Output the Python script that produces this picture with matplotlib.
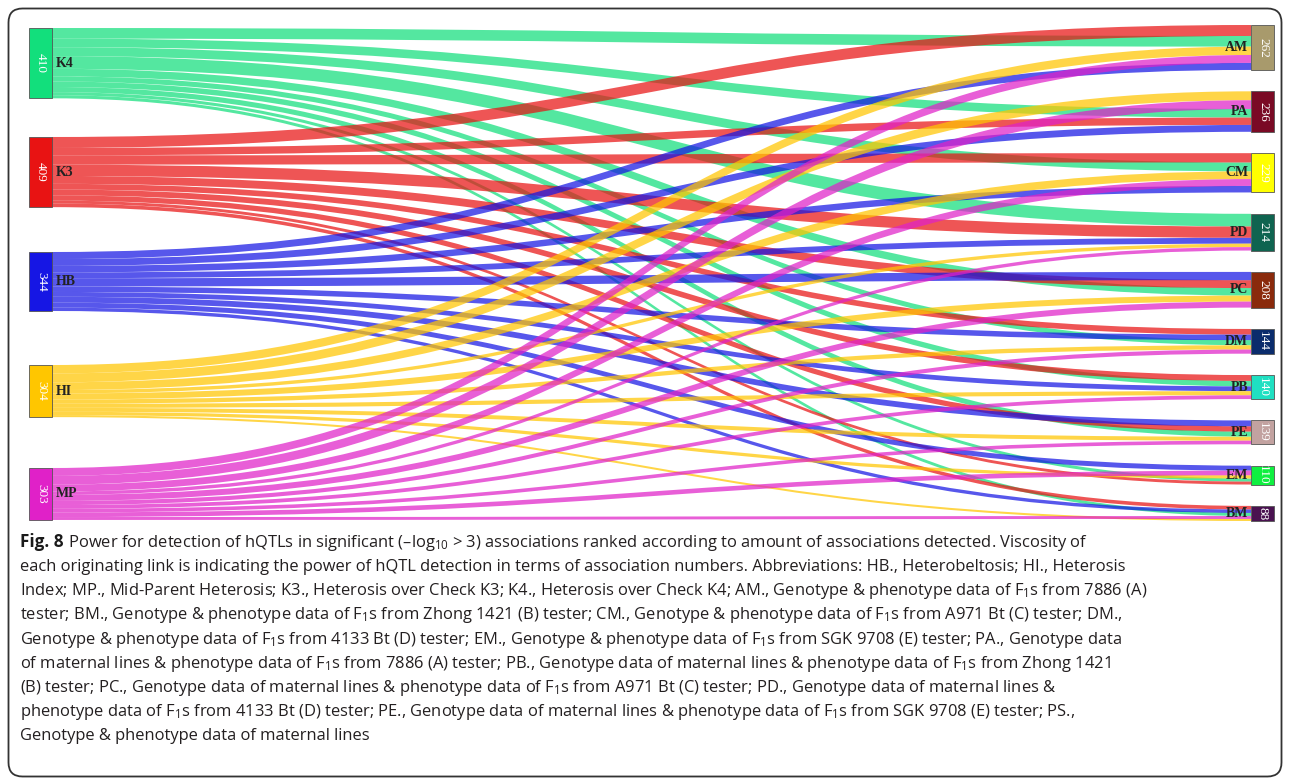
import matplotlib
matplotlib.use('Agg')
import matplotlib.pyplot as plt
from matplotlib.path import Path
from matplotlib.patches import PathPatch, Rectangle, FancyBboxPatch

# ---------------- data ----------------
sources = ['K4', 'K3', 'HB', 'HI', 'MP']
source_totals = [410, 409, 344, 304, 303]
targets = ['AM', 'PA', 'CM', 'PD', 'PC', 'DM', 'PB', 'PE', 'EM', 'BM']
target_totals = [262, 236, 229, 214, 208, 144, 140, 139, 110, 88]

# flows from each source to targets (order of `targets`)
flows_K4 = [62, 50, 52, 74, 44, 30, 32, 30, 18, 18]
flows_K3 = [64, 43, 54, 66, 46, 33, 34, 31, 17, 21]
flows_HB = [41, 40, 38, 34, 48, 32, 28, 34, 29, 20]
flows_HI = [49, 52, 45, 20, 35, 25, 24, 23, 19, 12]
flows_MP = [46, 51, 40, 20, 35, 24, 22, 21, 27, 17]
flows = [flows_K4, flows_K3, flows_HB, flows_HI, flows_MP]

caption_bold = "Fig. 8"
caption_lines = [
    " Power for detection of hQTLs in significant (\u2013log$_{10}$ > 3) associations ranked according to amount of associations detected. Viscosity of",
    "each originating link is indicating the power of hQTL detection in terms of association numbers. Abbreviations: HB., Heterobeltosis; HI., Heterosis",
    "Index; MP., Mid-Parent Heterosis; K3., Heterosis over Check K3; K4., Heterosis over Check K4; AM., Genotype & phenotype data of F$_1$s from 7886 (A)",
    "tester; BM., Genotype & phenotype data of F$_1$s from Zhong 1421 (B) tester; CM., Genotype & phenotype data of F$_1$s from A971 Bt (C) tester; DM.,",
    "Genotype & phenotype data of F$_1$s from 4133 Bt (D) tester; EM., Genotype & phenotype data of F$_1$s from SGK 9708 (E) tester; PA., Genotype data",
    "of maternal lines & phenotype data of F$_1$s from 7886 (A) tester; PB., Genotype data of maternal lines & phenotype data of F$_1$s from Zhong 1421",
    "(B) tester; PC., Genotype data of maternal lines & phenotype data of F$_1$s from A971 Bt (C) tester; PD., Genotype data of maternal lines &",
    "phenotype data of F$_1$s from 4133 Bt (D) tester; PE., Genotype data of maternal lines & phenotype data of F$_1$s from SGK 9708 (E) tester; PS.,",
    "Genotype & phenotype data of maternal lines",
]

# ---------------- style / layout ----------------
source_colors = ['#12df7c', '#e81313', '#1616e4', '#ffc600', '#e021c8']
target_colors = ['#a89a6c', '#7a0a25', '#ffff00', '#0f6450', '#8a2a0c',
                 '#0b2c6c', '#1fe0c2', '#c2a2a0', '#0ff040', '#4a1250']

plt.rcParams['mathtext.fontset'] = 'custom'
plt.rcParams['mathtext.rm'] = 'Open Sans'
plt.rcParams['mathtext.it'] = 'Open Sans:italic'
plt.rcParams['mathtext.bf'] = 'Open Sans:bold'

W, H = 1290, 778
fig = plt.figure(figsize=(W / 100, H / 100), dpi=100)
ax = fig.add_axes([0, 0, 1, 1])
ax.set_xlim(0, W)
ax.set_ylim(H, 0)
ax.axis('off')

# frame
frame = FancyBboxPatch((8.5, 8.5), 1273, 768, boxstyle="round,pad=0,rounding_size=14",
                       fc='none', ec='#333333', lw=1.3, transform=ax.transData, clip_on=False)
ax.add_patch(frame)

k = 0.1715  # px per unit
lx0, lx1 = 29, 52
rx0, rx1 = 1251, 1274
left_tops = [28, 137, 252, 365, 468]
r_top, r_bot = 25, 521
r_gap = (r_bot - r_top - k * sum(target_totals)) / (len(targets) - 1)
right_tops = []
y = r_top
for t in target_totals:
    right_tops.append(y)
    y += t * k + r_gap

# source side offsets: links ordered by target position
src_off = {}
for i, s in enumerate(sources):
    y = left_tops[i]
    for j in range(len(targets)):
        v = flows[i][j]
        src_off[(i, j)] = (y, y + v * k)
        y += v * k

# target side offsets: links ordered by value descending
tgt_off = {}
for j in range(len(targets)):
    order = sorted(range(len(sources)), key=lambda i: -flows[i][j])
    y = right_tops[j]
    for i in order:
        v = flows[i][j]
        tgt_off[(i, j)] = (y, y + v * k)
        y += v * k

xm = (lx1 + rx0) / 2
for i in range(len(sources)):
    for j in range(len(targets)):
        s0, s1 = src_off[(i, j)]
        t0, t1 = tgt_off[(i, j)]
        verts = [(lx1, s0), (xm, s0), (xm, t0), (rx0, t0), (rx0, t1),
                 (xm, t1), (xm, s1), (lx1, s1), (lx1, s0)]
        codes = [Path.MOVETO, Path.CURVE4, Path.CURVE4, Path.CURVE4, Path.LINETO,
                 Path.CURVE4, Path.CURVE4, Path.CURVE4, Path.CLOSEPOLY]
        ax.add_patch(PathPatch(Path(verts, codes), fc=source_colors[i], ec='none',
                               alpha=0.72, lw=0, zorder=2))

serif = 'Liberation Serif'
for i, s in enumerate(sources):
    h = source_totals[i] * k
    ax.add_patch(Rectangle((lx0, left_tops[i]), lx1 - lx0, h, fc=source_colors[i],
                           ec='#555555', lw=0.6, zorder=3))
    ax.text((lx0 + lx1) / 2 + 0.5, left_tops[i] + h / 2, str(source_totals[i]), rotation=-90,
            ha='center', va='center', color='white', fontsize=9.5, family=serif, zorder=4)
    ax.text(lx1 + 4, left_tops[i] + h / 2, s, ha='left', va='center', color='#222222',
            fontsize=10, family=serif, fontweight='bold', zorder=4)

for j, t in enumerate(targets):
    h = target_totals[j] * k
    ax.add_patch(Rectangle((rx0, right_tops[j]), rx1 - rx0, h, fc=target_colors[j],
                           ec='#555555', lw=0.6, zorder=3))
    ax.text((rx0 + rx1) / 2 + 0.5, right_tops[j] + h / 2, str(target_totals[j]), rotation=-90,
            ha='center', va='center', color='white', fontsize=9.5, family=serif, zorder=4)
    ax.text(rx0 - 3, right_tops[j] + h / 2, t, ha='right', va='center', color='#222222',
            fontsize=10, family=serif, fontweight='bold', zorder=4)

# caption
cap_font = 'Open Sans'
renderer = fig.canvas.get_renderer()
probe = ax.text(0, 0, caption_lines[1], fontsize=10, family=cap_font)
pw = probe.get_window_extent(renderer).width
probe.remove()
fs = 10 * (1130 - 20) / pw

x_start = 20
base0 = 547
step = 24.15
tb = ax.text(x_start, base0, caption_bold, fontsize=fs * 1.04, family=cap_font,
             fontweight='bold', color='#1a1a1a', va='baseline', ha='left')
bw = tb.get_window_extent(renderer).width
for n, line in enumerate(caption_lines):
    x = x_start + (bw if n == 0 else 0)
    ax.text(x, base0 + n * step, line, fontsize=fs, family=cap_font, color='#231f20',
            va='baseline', ha='left')

fig.savefig('out.png', dpi=100)
